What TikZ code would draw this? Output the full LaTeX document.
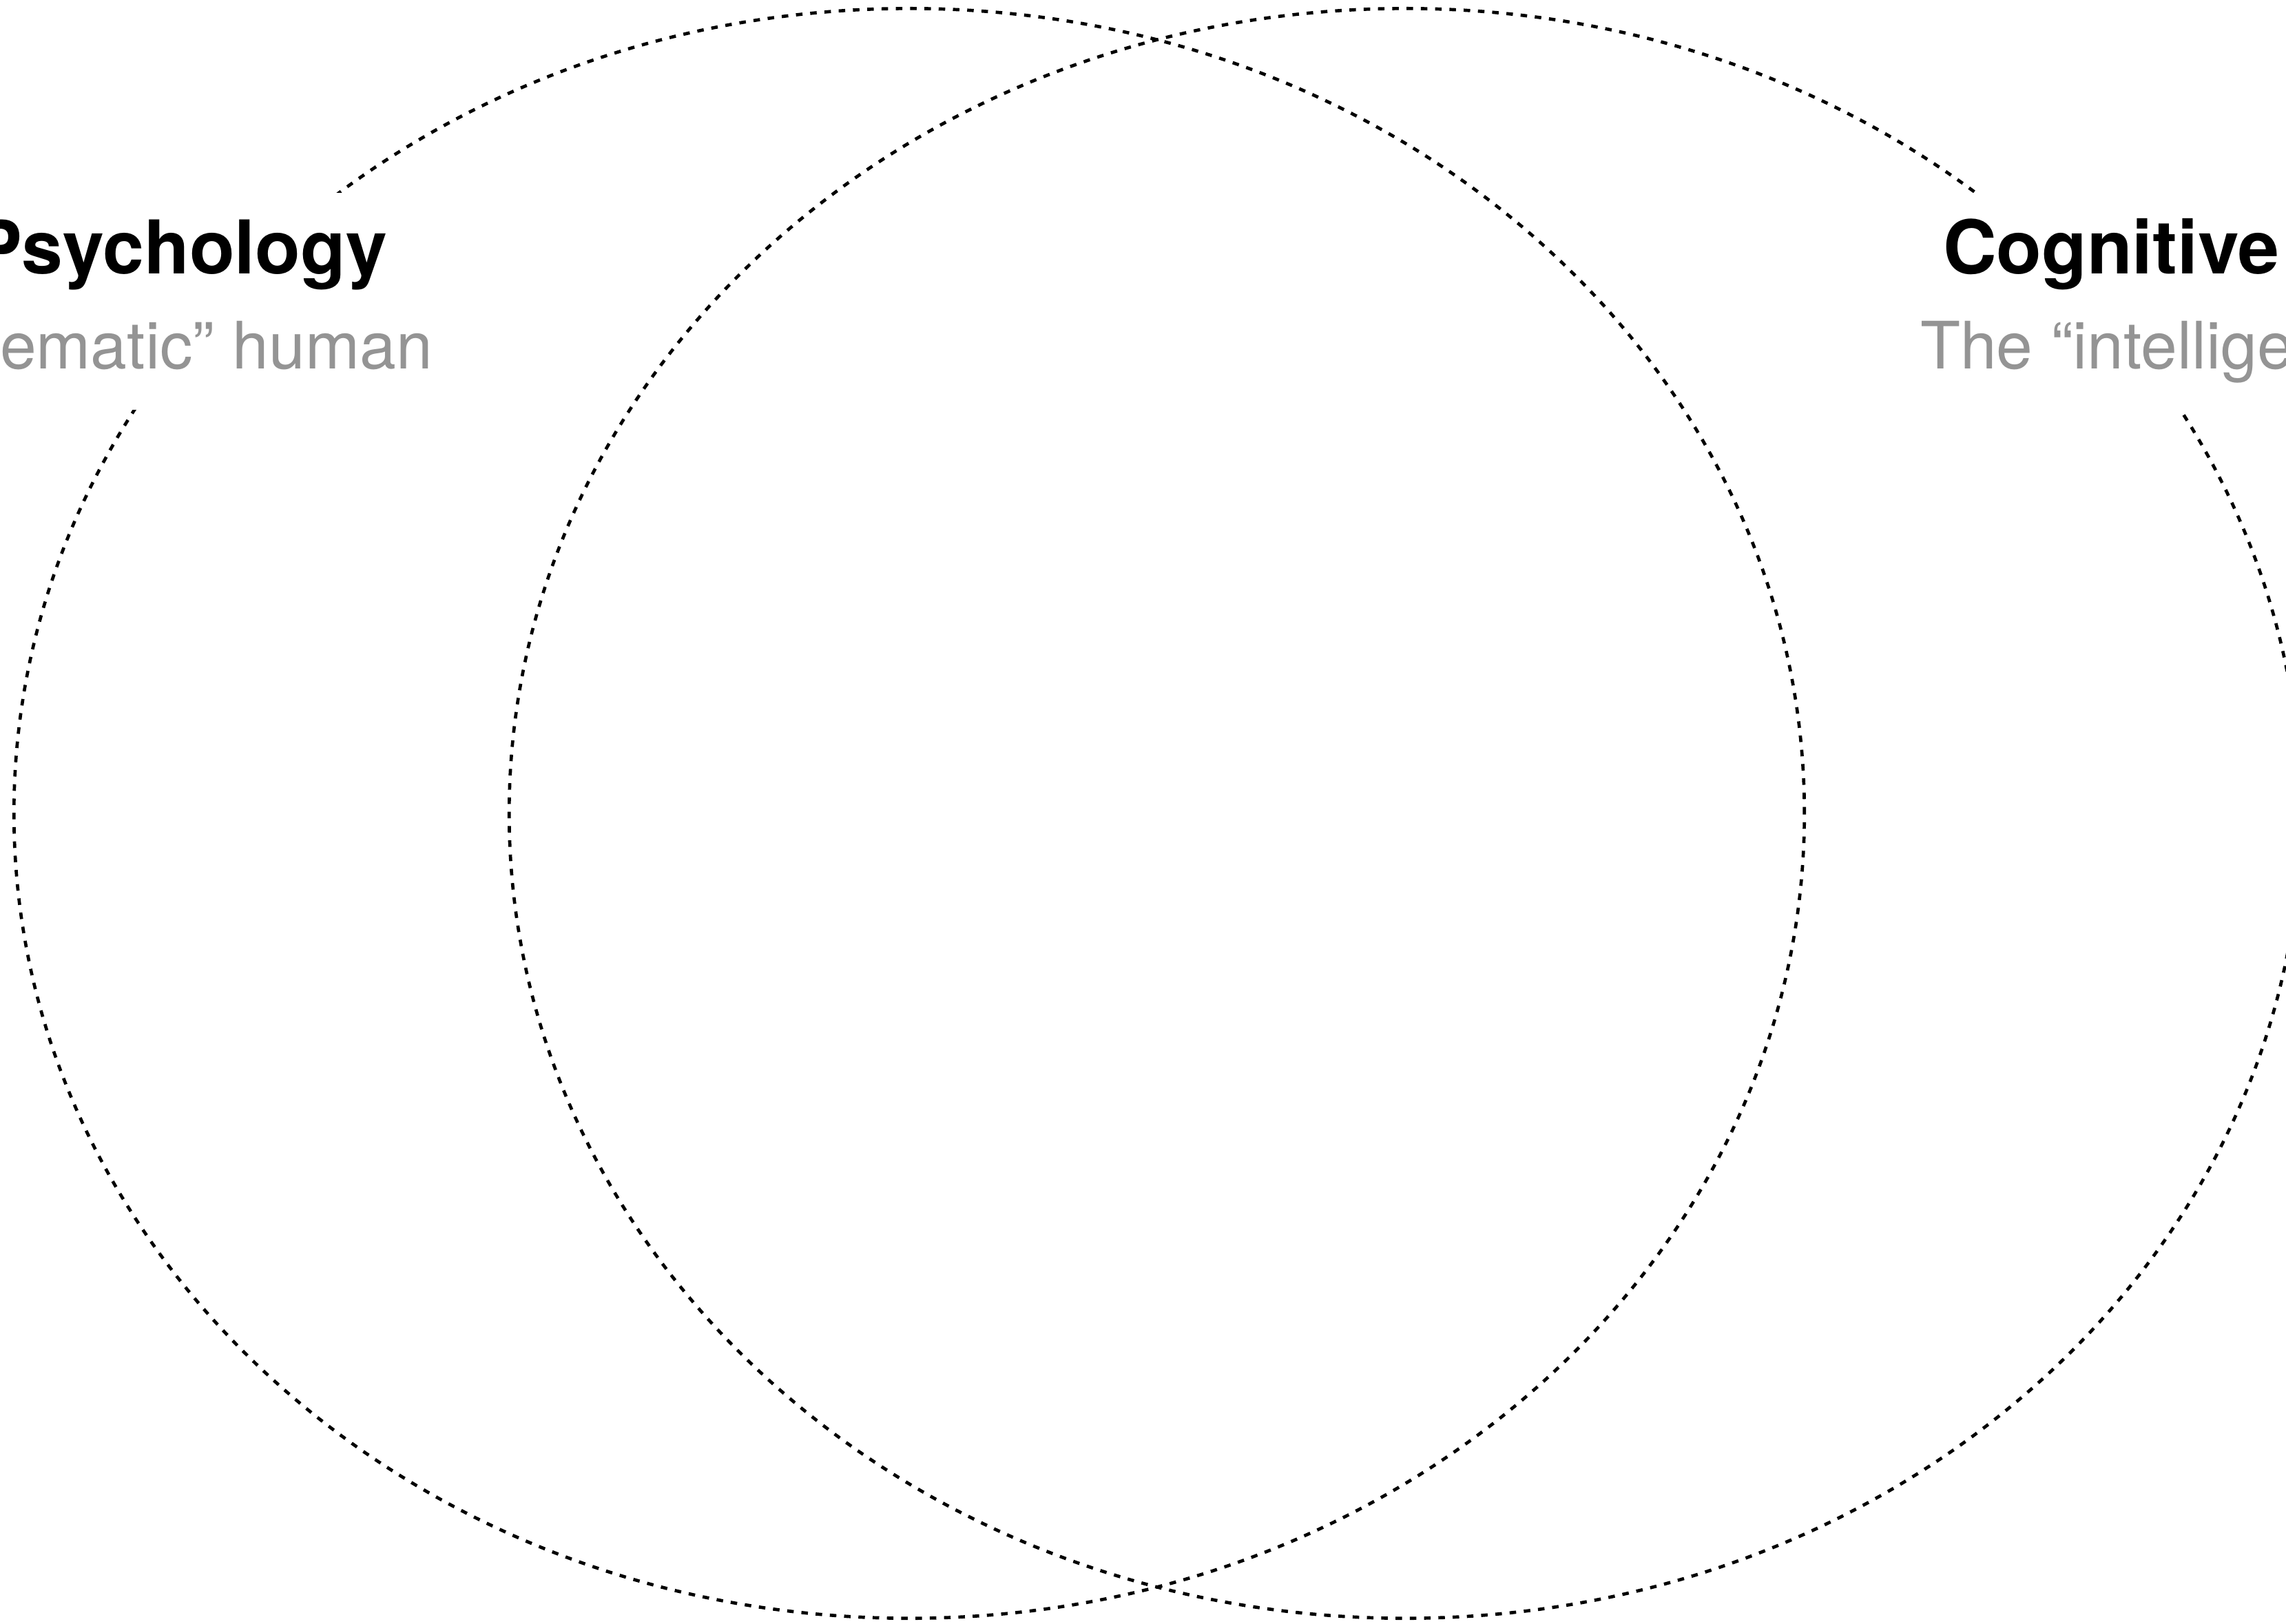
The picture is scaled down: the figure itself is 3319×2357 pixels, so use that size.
\documentclass[tikz,border=0pt]{standalone}
\usepackage{fontspec}
\setmainfont{TeX Gyre Heros}
\definecolor{subgray}{RGB}{148,148,148}
\begin{document}
\begin{tikzpicture}[x=0.01cm,y=-0.01cm,
  ring/.style={draw=black,line width=1.33pt,dash pattern=on 2.7pt off 3.2pt},
  mask/.style={fill=white,draw=none},
  head/.style={inner sep=0pt,outer sep=0pt,font=\fontsize{30.6pt}{36pt}\selectfont\bfseries},
  sub/.style={inner sep=0pt,outer sep=0pt,text=subgray,font=\fontsize{27pt}{32pt}\selectfont}]
\useasboundingbox (0,0) rectangle (3319,2357);
\clip (0,0) rectangle (3319,2357);
\fill[white] (0,0) rectangle (3319,2357);
\draw[ring] (1320,1181) ellipse [x radius=12.99cm, y radius=11.68cm];
\draw[ring] (2040,1181) ellipse [x radius=13.00cm, y radius=11.68cm];
\fill[mask] (-50,280) rectangle (660,595);
\fill[mask] (2770,280) rectangle (3400,597);
\node[head,anchor=base east] (lhead) at (562,397) {Psychology};
\node[sub,anchor=base east] (lsub) at (628,535) {ematic” human};
\node[head,anchor=base west] (rhead) at (2821,397) {Cognitive};
\node[sub,anchor=base west] (rsub) at (2788,535) {The “intellige};
\end{tikzpicture}
\end{document}
